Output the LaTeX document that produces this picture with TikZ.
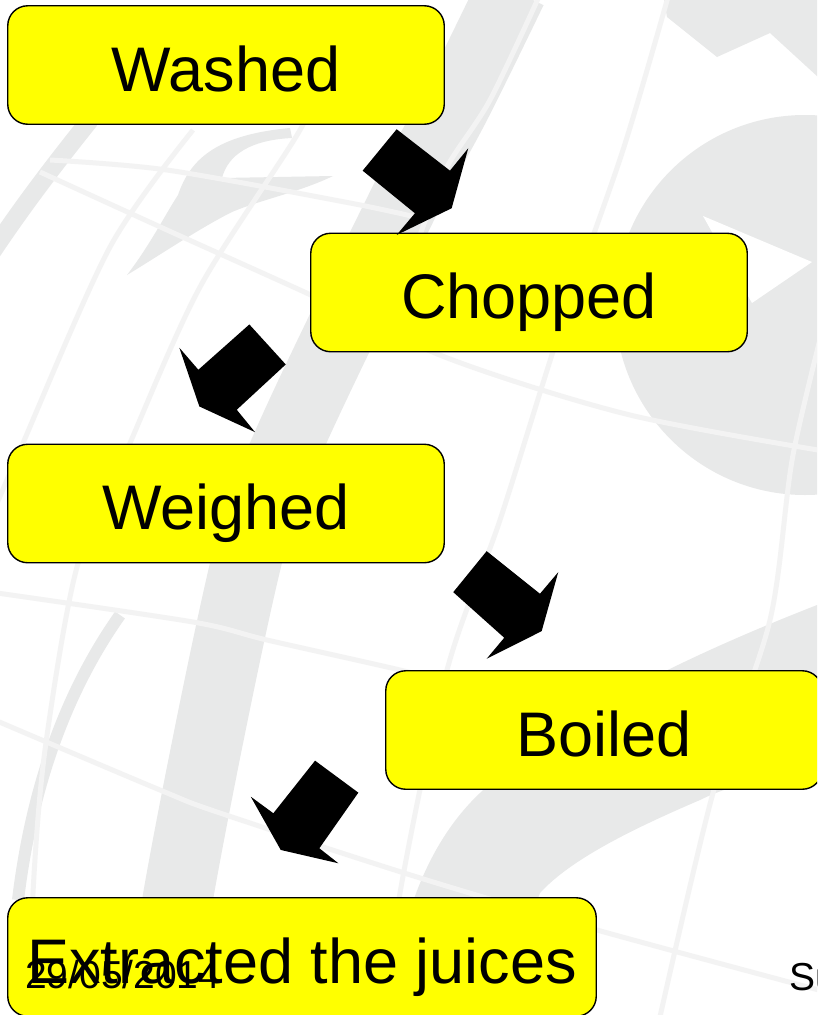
\documentclass[tikz,border=0pt]{standalone}
\usepackage{fontspec}
\setmainfont{Liberation Sans}
\definecolor{wmgray}{RGB}{232,233,233}
\definecolor{wmline}{RGB}{243,243,243}
\definecolor{boxyellow}{RGB}{255,255,0}
\tikzset{
  stepbox/.style={draw=black, line width=1.4pt, fill=boxyellow, rounded corners=20pt,
    minimum width=436.5pt, minimum height=118.5pt, inner sep=0pt,
    font=\fontsize{63}{63}\selectfont, text height=52pt, text depth=0pt},
  blockarrow/.style={fill=black},
  wmfill/.style={fill=wmgray},
  wmband/.style={draw=wmgray},
  gridline/.style={draw=wmline, line width=5pt},
  smalltext/.style={font=\fontsize{39}{39}\selectfont, inner sep=0pt, anchor=base west},
}
\begin{document}
\begin{tikzpicture}[x=1pt,y=-1pt]
\useasboundingbox (0,0) rectangle (817,1015);
\clip (0,0) rectangle (817,1015);
\fill[white] (0,0) rectangle (817,1015);

% ---- watermark (globe) ----
% right disc
\fill[wmfill] (805,305) circle [radius=190];
% top right corner piece
\fill[wmfill] (664,0) -- (830,0) -- (830,88) -- (770,33) -- (717,57) -- (667,17) -- cycle;
% lower sweeping band
\fill[wmfill] (390,1030) .. controls (395,920) and (430,840) .. (480,793)
  .. controls (560,715) and (700,650) .. (830,600) -- (830,770)
  .. controls (760,775) and (720,790) .. (700,800)
  .. controls (630,830) and (570,860) .. (540,893)
  .. controls (525,930) and (520,980) .. (520,1030) -- cycle;
% long curved band on the left
\draw[wmband, line width=70pt] plot[smooth, tension=0.6] coordinates
  {(512,-10) (458,100) (400,210) (285,450) (245,567) (178,897) (165,1030)};
% swoosh
\fill[wmfill] (127,275) .. controls (150,245) and (165,215) .. (178,195)
  .. controls (190,160) and (215,135) .. (290,128) -- (292,138)
  .. controls (250,140) and (228,155) .. (222,178) -- (333,176)
  .. controls (300,192) and (260,200) .. (232,212)
  .. controls (200,228) and (160,255) .. cycle;
% faint bands
\draw[wmband, line width=18pt] (90,120) .. controls (50,170) and (20,210) .. (-10,255);
\draw[wmband, line width=12pt] (120,615) .. controls (60,700) and (30,800) .. (18,900);
% white wedge in the disc
\fill[white] (703,216) -- (812,262) -- (752,303) -- cycle;
% grid lines
\draw[gridline] plot[smooth] coordinates {(40,172) (167,230) (300,290) (450,359) (630,415) (830,452)};
\draw[gridline] plot[smooth] coordinates {(50,160) (167,170) (350,203) (420,218)};
\draw[gridline] plot[smooth] coordinates {(-10,592) (193,622) (267,640) (400,670) (500,695)};
\draw[gridline] plot[smooth] coordinates {(-10,718) (160,790) (220,813) (417,877) (597,930) (830,993)};
\draw[gridline] plot[smooth] coordinates {(330,60) (300,130) (200,287) (127,450) (77,567) (45,750) (33,893) (30,1030)};
\draw[gridline] plot[smooth] coordinates {(193,130) (110,247) (20,450) (-10,520)};
\draw[gridline] plot[smooth] coordinates {(670,-10) (623,150) (560,330) (500,520) (447,670) (400,893) (385,1030)};
\draw[gridline] plot[smooth] coordinates {(830,300) (793,455) (770,620) (713,793) (657,1030)};
\draw[gridline] plot[smooth] coordinates {(542,-10) (490,100) (447,167) (420,235)};

% ---- steps ----
\node[stepbox] (wash) at (226,65) {Washed};
\node[stepbox] (chop) at (529,292.5) {Chopped};
\node[stepbox] (weigh) at (226,503.5) {Weighed};
\node[stepbox] (boil) at (604,730) {Boiled};
\node[stepbox, minimum width=588.5pt] (extr) at (302,957) {Extracted the juices};

% ---- block arrows ----
\begin{scope}[shift={(wash.south east)}]
  \fill[blockarrow] (-48.3,4.3) -- (5,45.7) -- (23.3,23.3) -- (6.7,83.3)
    -- (-48.3,110) -- (-30,88.3) -- (-82.3,45.7) -- cycle;
\end{scope}
\begin{scope}[shift={(chop.south west)}]
  \fill[blockarrow] (-60.7,-28) -- (-24.3,12) -- (-73.3,57.3) -- (-55,79.7)
    -- (-110.7,54) -- (-130.7,-4.7) -- (-111.7,17.3) -- cycle;
\end{scope}
\begin{scope}[shift={(weigh.south east)}]
  \fill[blockarrow] (41.7,-12.3) -- (95,30.3) -- (113.3,8.7) -- (96.7,67.7)
    -- (41.7,95.3) -- (59.3,74.3) -- (8.3,28.7) -- cycle;
\end{scope}
\begin{scope}[shift={(boil.south west)}]
  \fill[blockarrow] (-70,-29.3) -- (-26.7,2.7) -- (-65.7,58.3) -- (-46.7,73.3)
    -- (-104.3,60) -- (-134.3,6.7) -- (-111.7,23.3) -- cycle;
\end{scope}

% ---- footer texts ----
\node[smalltext] (date) at (25,988) {29/05/2014};
\node[smalltext] (foot) at (789,990) {Su};
\end{tikzpicture}
\end{document}
